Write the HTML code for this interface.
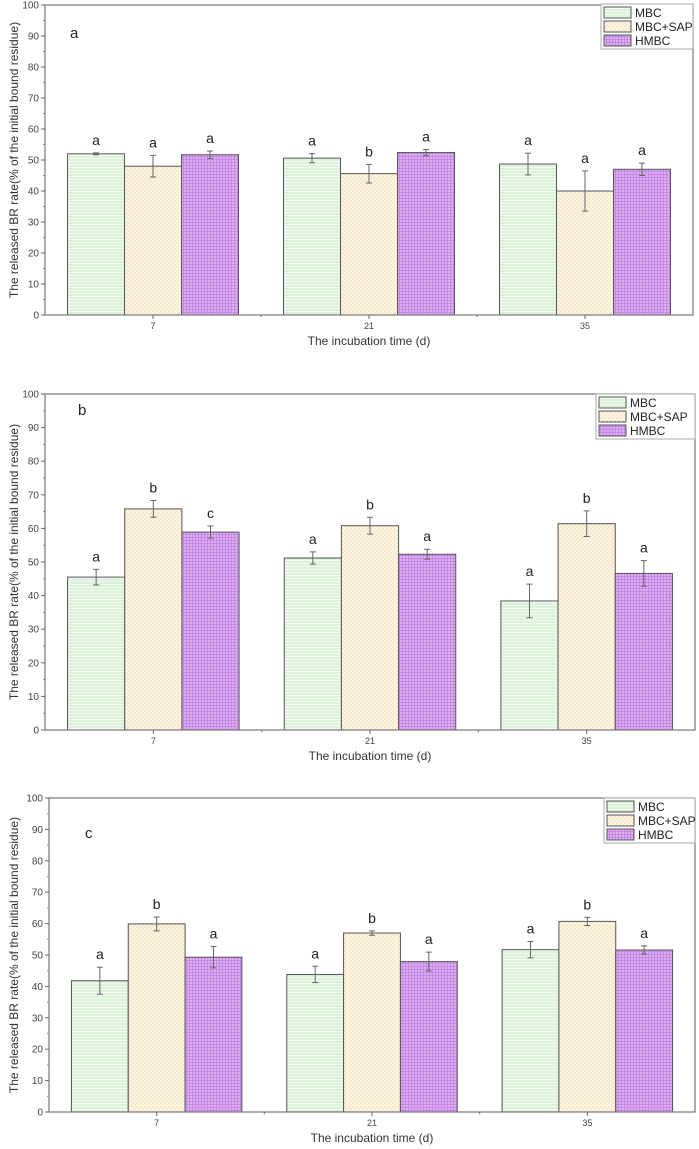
<!DOCTYPE html>
<html><head><meta charset="utf-8"><style>
body{margin:0;background:#fff;}
svg{display:block;font-family:"Liberation Sans",Arial,sans-serif;}
</style></head><body>
<svg id="chart" width="699" height="1149">
<defs>
<pattern id="pMBC" width="4" height="3" patternUnits="userSpaceOnUse"><rect width="4" height="3" fill="#f1fbef"/><line x1="0" y1="1" x2="4" y2="1" stroke="#b8e2b4" stroke-width="0.7"/></pattern>
<pattern id="pSAP" width="4" height="4" patternUnits="userSpaceOnUse"><rect width="4" height="4" fill="#fdf5e2"/><path d="M0,4 L4,0" stroke="#e8d6ae" stroke-width="0.6"/></pattern>
<pattern id="pHM" width="3" height="3" patternUnits="userSpaceOnUse"><rect width="3" height="3" fill="#dcb0f0"/><path d="M0,0.5 H3 M0.5,0 V3" stroke="#c27fe2" stroke-width="0.8"/></pattern>
</defs>
</svg>
<script>
const categories = ["7","21","35"];
const seriesNames = ["MBC","MBC+SAP","HMBC"];
const yTicks = [0,10,20,30,40,50,60,70,80,90,100];
const aValues = [[52,50.6,48.7],[48,45.6,40],[51.7,52.4,47]];
const aErrors = [[0.3,1.5,3.5],[3.5,3,6.5],[1.2,1,2]];
const aLetters = [["a","a","a"],["a","b","a"],["a","a","a"]];
const bValues = [[45.5,51.2,38.4],[65.8,60.8,61.4],[58.9,52.3,46.6]];
const bErrors = [[2.3,1.8,5],[2.5,2.5,3.8],[1.8,1.5,3.8]];
const bLetters = [["a","a","a"],["b","b","b"],["c","a","a"]];
const cValues = [[41.8,43.8,51.7],[59.9,57,60.7],[49.3,47.9,51.6]];
const cErrors = [[4.3,2.6,2.6],[2.2,0.7,1.3],[3.4,3,1.3]];
const cLetters = [["a","a","a"],["b","b","b"],["a","a","a"]];

const NS="http://www.w3.org/2000/svg";
const svg=document.getElementById('chart');
function mk(tag,attrs,parent,text){const e=document.createElementNS(NS,tag);for(const k in attrs)e.setAttribute(k,attrs[k]);if(text!==undefined)e.textContent=text;(parent||svg).appendChild(e);return e;}
const fills=["url(#pMBC)","url(#pSAP)","url(#pHM)"];

function panel(id,L,R,T,B,values,errors,letters,panelLetter,lx,ly,legX,legY){
  const g=mk('g',{});
  
  
  const band=(R-L)/categories.length;
  const bw=band*57/216;
  const xC=i=>L+band*(i+0.5);
  const y=v=>B-(v/100)*(B-T);
  // bars
  for(let s=0;s<3;s++)for(let c=0;c<3;c++){
    const x0=xC(c)+(s-1.5)*bw;
    const r=mk('rect',{x:x0,y:y(values[s][c]),width:bw,height:B-y(values[s][c]),fill:fills[s],stroke:'#555','stroke-width':1},g);
    
    
    const cx=x0+bw/2,e=errors[s][c];
    const eb=mk('path',{d:`M${cx},${y(values[s][c]+e)}V${y(values[s][c]-e)}M${cx-3},${y(values[s][c]+e)}H${cx+3}M${cx-3},${y(values[s][c]-e)}H${cx+3}`,stroke:'#666','stroke-width':1,fill:'none'},g);
    
    
    const t=mk('text',{x:cx,y:y(values[s][c]+e)-8,'font-size':14,'text-anchor':'middle',fill:'#222'},g,letters[s][c]);
    
    
  }
  // frame
  const fr=mk('rect',{x:L,y:T,width:R-L,height:B-T,fill:'none',stroke:'#777','stroke-width':1.2},g);
  
  
  // y ticks
  yTicks.forEach(v=>{
    mk('line',{x1:L-4,x2:L,y1:y(v),y2:y(v),stroke:'#666'},g);
    if(v<100)mk('line',{x1:L-2,x2:L,y1:y(v+5),y2:y(v+5),stroke:'#888'},g);
    const t=mk('text',{x:L-6,y:y(v)+3.5,'font-size':10,'text-anchor':'end',fill:'#444'},g,v);
    
    
  });
  categories.forEach((c,i)=>{
    mk('line',{x1:xC(i),x2:xC(i),y1:B,y2:B+4,stroke:'#666'},g);
    if(i>0)mk('line',{x1:L+band*i,x2:L+band*i,y1:B,y2:B+2,stroke:'#666'},g);
    const t=mk('text',{x:xC(i),y:B+14,'font-size':9,'text-anchor':'middle',fill:'#444'},g,c);
    
    
  });
  const xt=mk('text',{x:(L+R)/2,y:B+30,'font-size':12,'text-anchor':'middle',fill:'#333'},g,'The incubation time (d)');
  
  
  const yt=mk('text',{x:0,y:0,'font-size':12,'text-anchor':'middle',fill:'#333',transform:`translate(18,${(T+B)/2}) rotate(-90)`},g,'The released BR rate(% of the initial bound residue)');
  
  
  const pl=mk('text',{x:lx,y:ly,'font-size':15,fill:'#222'},g,panelLetter);
  
  
  // legend
  const lg=mk('g',{},g);
  
  
  mk('rect',{x:legX,y:legY,width:R-legX,height:45,fill:'#fff',stroke:'#aaa'},lg);
  seriesNames.forEach((n,i)=>{
    const e=mk('g',{},lg);
    
    
    mk('rect',{x:legX+3,y:legY+3+i*14,width:27,height:11,fill:fills[i],stroke:'#555'},e);
    mk('text',{x:legX+34,y:legY+13+i*14,'font-size':12,fill:'#222'},e,n);
  });
}
panel('a',45,693,5,315,aValues,aErrors,aLetters,'a',70,38,601,4);
panel('b',45,695,394,730,bValues,bErrors,bLetters,'b',78,415,596,394);
panel('c',49,695,798,1112,cValues,cErrors,cLetters,'c',85,838,604,798);
</script>
</body></html>
